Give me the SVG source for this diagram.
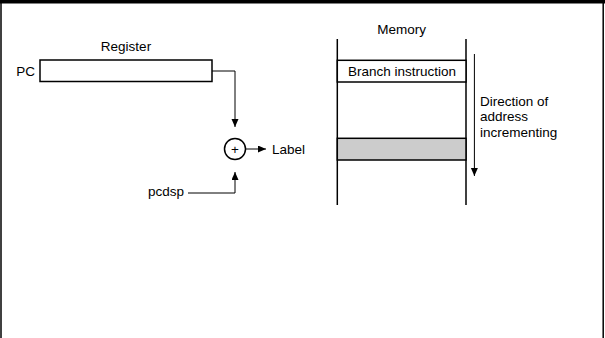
<svg xmlns="http://www.w3.org/2000/svg" width="605" height="338" viewBox="0 0 605 338">
<style>
text{font-family:"Liberation Sans",Arial,sans-serif;font-size:13.5px;fill:#000}
.box{fill:#fff;stroke:#000;stroke-width:1.5}
.ln{fill:none;stroke:#000;stroke-width:1.5}
.cn{fill:none;stroke:#000;stroke-width:1}
</style>
<defs>
<marker id="ah" markerUnits="userSpaceOnUse" markerWidth="9" markerHeight="8" refX="8" refY="3.5" orient="auto">
<path d="M0,0 L8,3.5 L0,7 z" fill="#000"/>
</marker>
</defs>
<g id="frame">
<rect x="0" y="0" width="605" height="3.5" fill="#000"/>
<line x1="1" y1="0" x2="1" y2="338" class="ln"/>
<line x1="603.2" y1="0" x2="603.2" y2="338" class="ln"/>
</g>
<g id="register">
<text x="126" y="51" text-anchor="middle">Register</text>
<text x="35" y="76" text-anchor="end">PC</text>
<rect x="40" y="60" width="172" height="21.5" class="box"/>
</g>
<g id="adder">
<circle cx="235" cy="149" r="10.5" class="box" stroke-width="1"/>
<text x="235" y="153.5" text-anchor="middle" font-size="11">+</text>
</g>
<g id="label">
<text x="272" y="153.5">Label</text>
</g>
<g id="pcdsp">
<text x="148" y="196">pcdsp</text>
</g>
<g id="memory">
<text x="401.7" y="34" text-anchor="middle">Memory</text>
<line x1="337.3" y1="39" x2="337.3" y2="205" class="ln"/>
<line x1="466" y1="39" x2="466" y2="205" class="ln"/>
<rect x="337.3" y="60.3" width="128.7" height="21.7" class="box"/>
<text x="402" y="76" text-anchor="middle">Branch instruction</text>
<rect x="337.3" y="138.3" width="128.7" height="21.7" class="box" fill="#cccccc" style="fill:#cccccc"/>
</g>
<g id="direction">
<text x="480" y="105.5">Direction of</text>
<text x="480" y="121">address</text>
<text x="480" y="136.5">incrementing</text>
</g>
<g id="connectors">
<polyline points="212,71 235,71 235,127" class="cn" marker-end="url(#ah)"/>
<polyline points="188,193 235,193 235,172" class="cn" marker-end="url(#ah)"/>
<line x1="245.5" y1="149" x2="266" y2="149" class="cn" marker-end="url(#ah)"/>
<line x1="474.4" y1="54" x2="474.4" y2="176" class="cn" stroke="#333" marker-end="url(#ah)"/>
</g>
</svg>
